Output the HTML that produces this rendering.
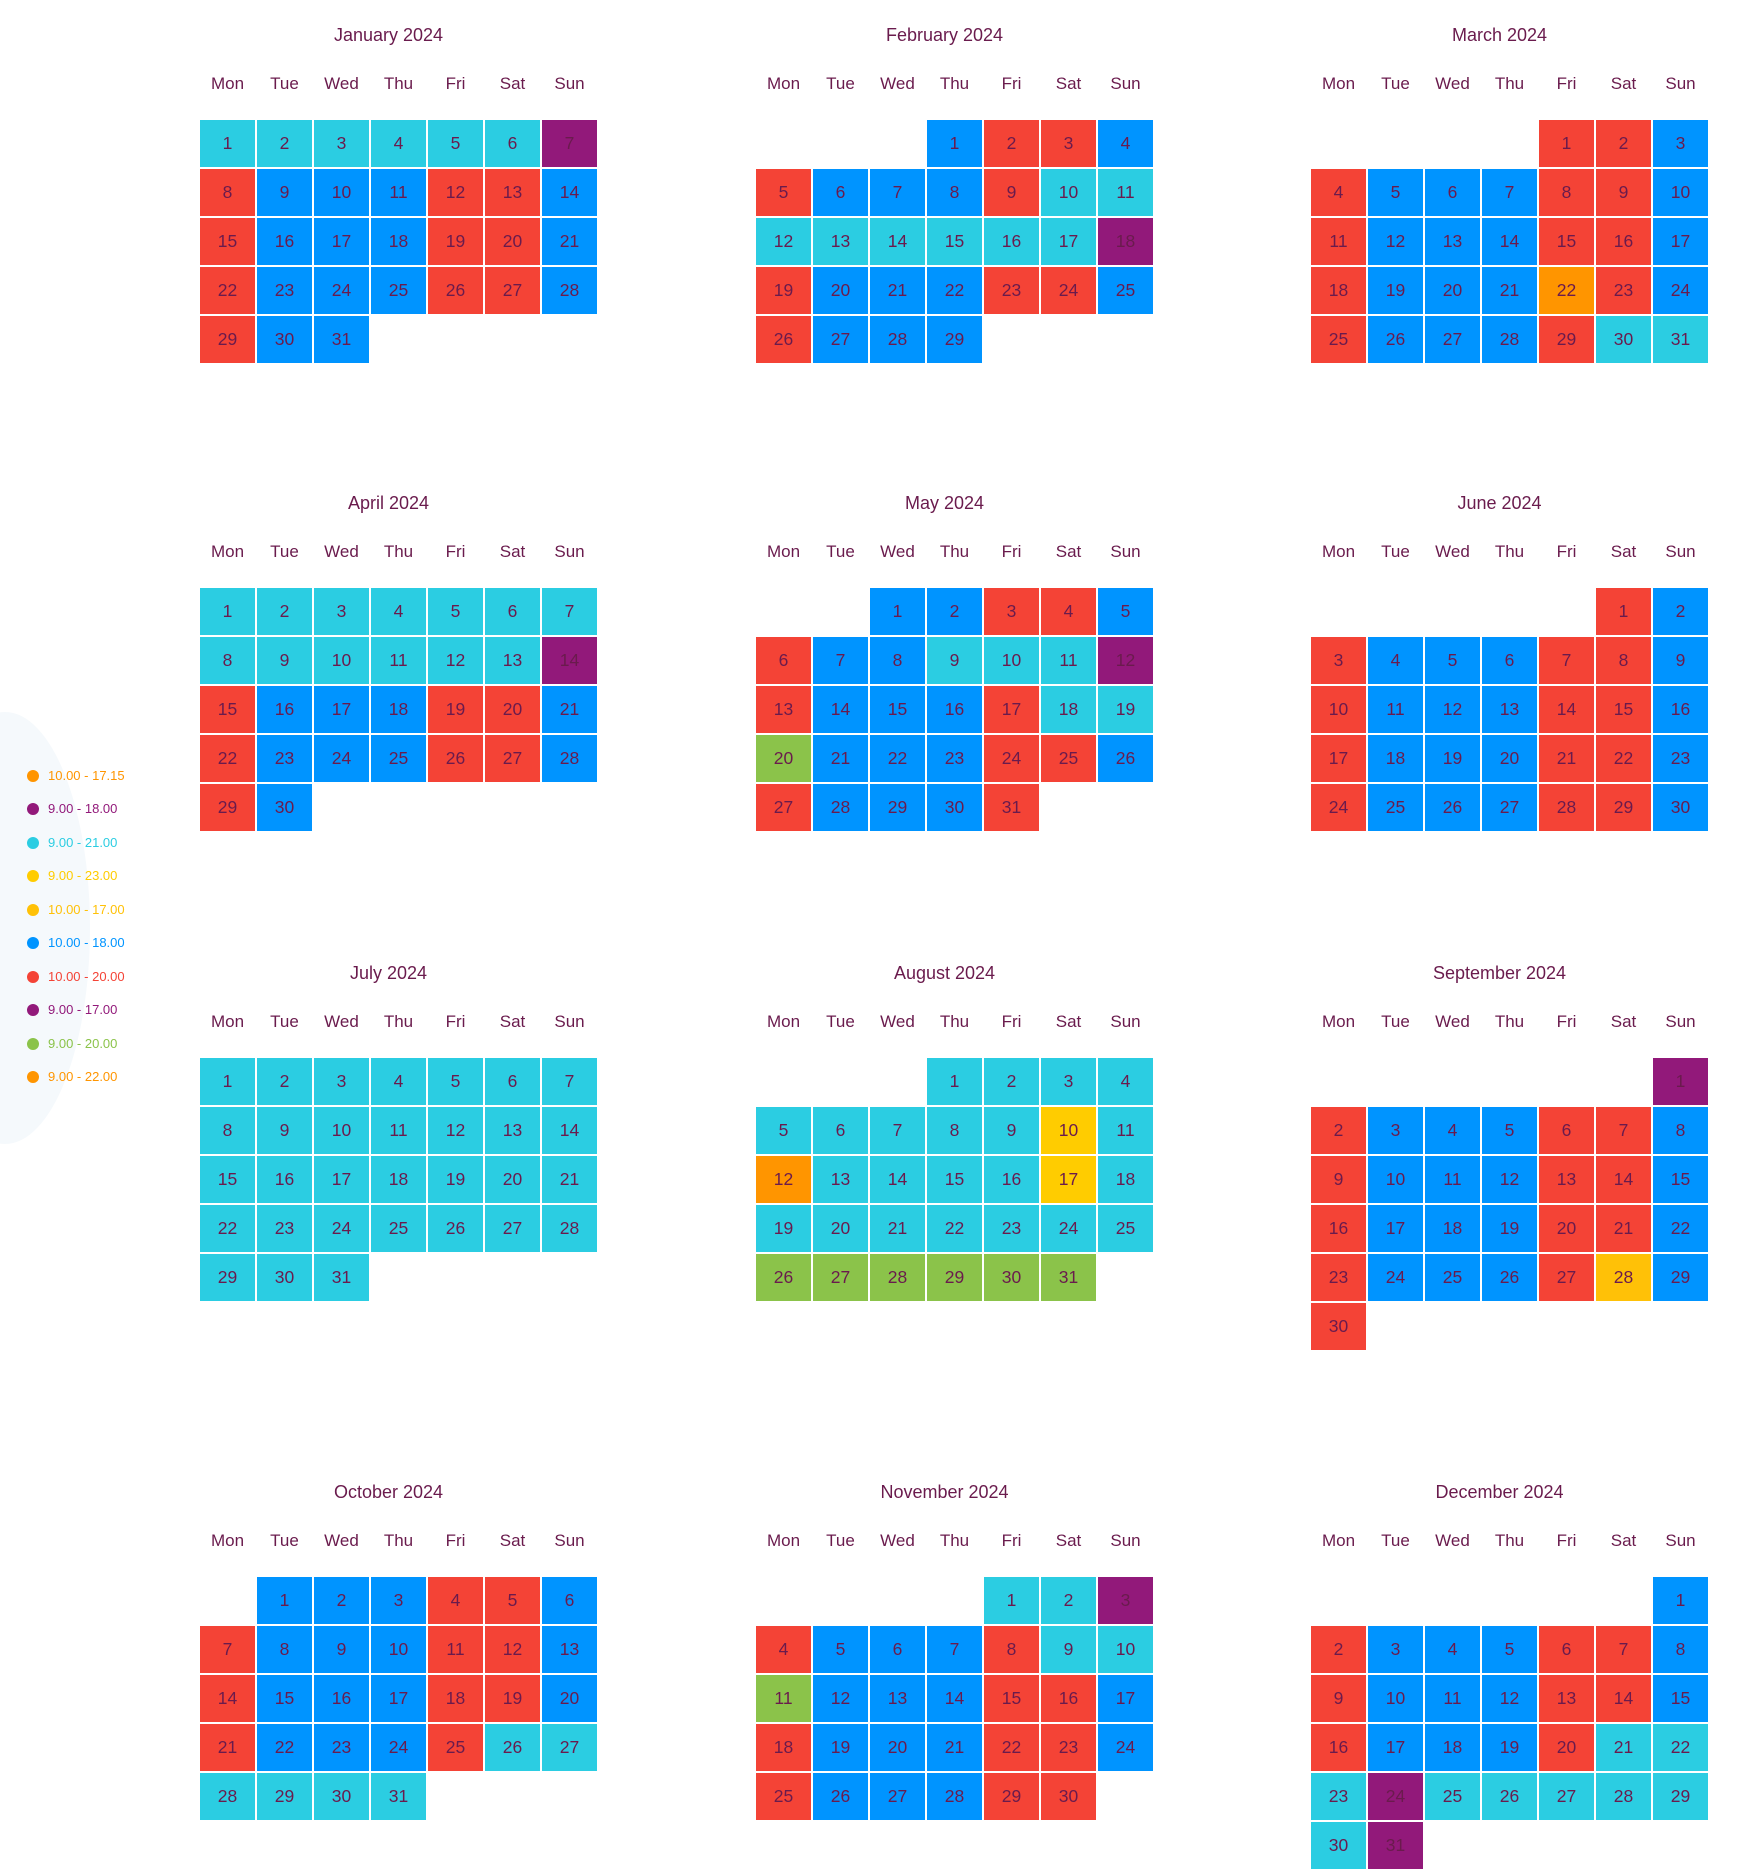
<!DOCTYPE html>
<html><head><meta charset="utf-8"><style>
body{margin:0;width:1740px;height:1871px;background:#fff;position:relative;overflow:hidden;font-family:"Liberation Sans",sans-serif;color:#6a1b4d}
.m{position:absolute;width:397px}
.t{position:absolute;top:-96px;left:-10px;width:397px;text-align:center;font-size:18px;line-height:22px}
.w{position:absolute;top:-47px;left:0;display:grid;grid-template-columns:repeat(7,55px);column-gap:2px;font-size:17px;line-height:22px;text-align:center}
.g{display:grid;grid-template-columns:repeat(7,55px);grid-auto-rows:47px;gap:2px}
.g i{font-style:normal;font-size:17.5px;display:flex;align-items:center;justify-content:center}
.c{background:#2bcde2}.b{background:#0094ff}.r{background:#f44336}.p{background:#92197a}.o{background:#ff9500}.y{background:#ffcc00}.gr{background:#8bc34a}
.blob{position:absolute;left:-80px;top:712px;width:170px;height:432px;border-radius:50%;background:#f5f9fc}
.lg{position:absolute;left:0;font-size:13px;line-height:16px}
.lg b{position:absolute;left:27px;top:2px;width:12px;height:12px;border-radius:50%}
.lg span{position:absolute;left:48px;white-space:nowrap}
</style></head><body>
<div class="blob"></div>
<div class="lg" style="top:768px;color:#ff9500"><b style="background:#ff9500"></b><span>10.00 - 17.15</span></div>
<div class="lg" style="top:801px;color:#92197a"><b style="background:#92197a"></b><span>9.00 - 18.00</span></div>
<div class="lg" style="top:835px;color:#2bcde2"><b style="background:#2bcde2"></b><span>9.00 - 21.00</span></div>
<div class="lg" style="top:868px;color:#ffcc00"><b style="background:#ffcc00"></b><span>9.00 - 23.00</span></div>
<div class="lg" style="top:902px;color:#ffc107"><b style="background:#ffc107"></b><span>10.00 - 17.00</span></div>
<div class="lg" style="top:935px;color:#0094ff"><b style="background:#0094ff"></b><span>10.00 - 18.00</span></div>
<div class="lg" style="top:969px;color:#f44336"><b style="background:#f44336"></b><span>10.00 - 20.00</span></div>
<div class="lg" style="top:1002px;color:#92197a"><b style="background:#92197a"></b><span>9.00 - 17.00</span></div>
<div class="lg" style="top:1036px;color:#8bc34a"><b style="background:#8bc34a"></b><span>9.00 - 20.00</span></div>
<div class="lg" style="top:1069px;color:#ff9500"><b style="background:#ff9500"></b><span>9.00 - 22.00</span></div>

<div class="m" style="left:200px;top:120px"><div class="t">January 2024</div><div class="w"><span>Mon</span><span>Tue</span><span>Wed</span><span>Thu</span><span>Fri</span><span>Sat</span><span>Sun</span></div><div class="g">
<i class=c>1</i><i class=c>2</i><i class=c>3</i><i class=c>4</i><i class=c>5</i><i class=c>6</i><i class=p>7</i>
<i class=r>8</i><i class=b>9</i><i class=b>10</i><i class=b>11</i><i class=r>12</i><i class=r>13</i><i class=b>14</i>
<i class=r>15</i><i class=b>16</i><i class=b>17</i><i class=b>18</i><i class=r>19</i><i class=r>20</i><i class=b>21</i>
<i class=r>22</i><i class=b>23</i><i class=b>24</i><i class=b>25</i><i class=r>26</i><i class=r>27</i><i class=b>28</i>
<i class=r>29</i><i class=b>30</i><i class=b>31</i></div></div>

<div class="m" style="left:756px;top:120px"><div class="t">February 2024</div><div class="w"><span>Mon</span><span>Tue</span><span>Wed</span><span>Thu</span><span>Fri</span><span>Sat</span><span>Sun</span></div><div class="g">
<i></i><i></i><i></i><i class=b>1</i><i class=r>2</i><i class=r>3</i><i class=b>4</i>
<i class=r>5</i><i class=b>6</i><i class=b>7</i><i class=b>8</i><i class=r>9</i><i class=c>10</i><i class=c>11</i>
<i class=c>12</i><i class=c>13</i><i class=c>14</i><i class=c>15</i><i class=c>16</i><i class=c>17</i><i class=p>18</i>
<i class=r>19</i><i class=b>20</i><i class=b>21</i><i class=b>22</i><i class=r>23</i><i class=r>24</i><i class=b>25</i>
<i class=r>26</i><i class=b>27</i><i class=b>28</i><i class=b>29</i></div></div>

<div class="m" style="left:1311px;top:120px"><div class="t">March 2024</div><div class="w"><span>Mon</span><span>Tue</span><span>Wed</span><span>Thu</span><span>Fri</span><span>Sat</span><span>Sun</span></div><div class="g">
<i></i><i></i><i></i><i></i><i class=r>1</i><i class=r>2</i><i class=b>3</i>
<i class=r>4</i><i class=b>5</i><i class=b>6</i><i class=b>7</i><i class=r>8</i><i class=r>9</i><i class=b>10</i>
<i class=r>11</i><i class=b>12</i><i class=b>13</i><i class=b>14</i><i class=r>15</i><i class=r>16</i><i class=b>17</i>
<i class=r>18</i><i class=b>19</i><i class=b>20</i><i class=b>21</i><i class=o>22</i><i class=r>23</i><i class=b>24</i>
<i class=r>25</i><i class=b>26</i><i class=b>27</i><i class=b>28</i><i class=r>29</i><i class=c>30</i><i class=c>31</i></div></div>

<div class="m" style="left:200px;top:588px"><div class="t">April 2024</div><div class="w"><span>Mon</span><span>Tue</span><span>Wed</span><span>Thu</span><span>Fri</span><span>Sat</span><span>Sun</span></div><div class="g">
<i class=c>1</i><i class=c>2</i><i class=c>3</i><i class=c>4</i><i class=c>5</i><i class=c>6</i><i class=c>7</i>
<i class=c>8</i><i class=c>9</i><i class=c>10</i><i class=c>11</i><i class=c>12</i><i class=c>13</i><i class=p>14</i>
<i class=r>15</i><i class=b>16</i><i class=b>17</i><i class=b>18</i><i class=r>19</i><i class=r>20</i><i class=b>21</i>
<i class=r>22</i><i class=b>23</i><i class=b>24</i><i class=b>25</i><i class=r>26</i><i class=r>27</i><i class=b>28</i>
<i class=r>29</i><i class=b>30</i></div></div>

<div class="m" style="left:756px;top:588px"><div class="t">May 2024</div><div class="w"><span>Mon</span><span>Tue</span><span>Wed</span><span>Thu</span><span>Fri</span><span>Sat</span><span>Sun</span></div><div class="g">
<i></i><i></i><i class=b>1</i><i class=b>2</i><i class=r>3</i><i class=r>4</i><i class=b>5</i>
<i class=r>6</i><i class=b>7</i><i class=b>8</i><i class=c>9</i><i class=c>10</i><i class=c>11</i><i class=p>12</i>
<i class=r>13</i><i class=b>14</i><i class=b>15</i><i class=b>16</i><i class=r>17</i><i class=c>18</i><i class=c>19</i>
<i class=gr>20</i><i class=b>21</i><i class=b>22</i><i class=b>23</i><i class=r>24</i><i class=r>25</i><i class=b>26</i>
<i class=r>27</i><i class=b>28</i><i class=b>29</i><i class=b>30</i><i class=r>31</i></div></div>

<div class="m" style="left:1311px;top:588px"><div class="t">June 2024</div><div class="w"><span>Mon</span><span>Tue</span><span>Wed</span><span>Thu</span><span>Fri</span><span>Sat</span><span>Sun</span></div><div class="g">
<i></i><i></i><i></i><i></i><i></i><i class=r>1</i><i class=b>2</i>
<i class=r>3</i><i class=b>4</i><i class=b>5</i><i class=b>6</i><i class=r>7</i><i class=r>8</i><i class=b>9</i>
<i class=r>10</i><i class=b>11</i><i class=b>12</i><i class=b>13</i><i class=r>14</i><i class=r>15</i><i class=b>16</i>
<i class=r>17</i><i class=b>18</i><i class=b>19</i><i class=b>20</i><i class=r>21</i><i class=r>22</i><i class=b>23</i>
<i class=r>24</i><i class=b>25</i><i class=b>26</i><i class=b>27</i><i class=r>28</i><i class=r>29</i><i class=b>30</i></div></div>

<div class="m" style="left:200px;top:1058px"><div class="t">July 2024</div><div class="w"><span>Mon</span><span>Tue</span><span>Wed</span><span>Thu</span><span>Fri</span><span>Sat</span><span>Sun</span></div><div class="g">
<i class=c>1</i><i class=c>2</i><i class=c>3</i><i class=c>4</i><i class=c>5</i><i class=c>6</i><i class=c>7</i>
<i class=c>8</i><i class=c>9</i><i class=c>10</i><i class=c>11</i><i class=c>12</i><i class=c>13</i><i class=c>14</i>
<i class=c>15</i><i class=c>16</i><i class=c>17</i><i class=c>18</i><i class=c>19</i><i class=c>20</i><i class=c>21</i>
<i class=c>22</i><i class=c>23</i><i class=c>24</i><i class=c>25</i><i class=c>26</i><i class=c>27</i><i class=c>28</i>
<i class=c>29</i><i class=c>30</i><i class=c>31</i></div></div>

<div class="m" style="left:756px;top:1058px"><div class="t">August 2024</div><div class="w"><span>Mon</span><span>Tue</span><span>Wed</span><span>Thu</span><span>Fri</span><span>Sat</span><span>Sun</span></div><div class="g">
<i></i><i></i><i></i><i class=c>1</i><i class=c>2</i><i class=c>3</i><i class=c>4</i>
<i class=c>5</i><i class=c>6</i><i class=c>7</i><i class=c>8</i><i class=c>9</i><i class=y>10</i><i class=c>11</i>
<i class=o>12</i><i class=c>13</i><i class=c>14</i><i class=c>15</i><i class=c>16</i><i class=y>17</i><i class=c>18</i>
<i class=c>19</i><i class=c>20</i><i class=c>21</i><i class=c>22</i><i class=c>23</i><i class=c>24</i><i class=c>25</i>
<i class=gr>26</i><i class=gr>27</i><i class=gr>28</i><i class=gr>29</i><i class=gr>30</i><i class=gr>31</i></div></div>

<div class="m" style="left:1311px;top:1058px"><div class="t">September 2024</div><div class="w"><span>Mon</span><span>Tue</span><span>Wed</span><span>Thu</span><span>Fri</span><span>Sat</span><span>Sun</span></div><div class="g">
<i></i><i></i><i></i><i></i><i></i><i></i><i class=p>1</i>
<i class=r>2</i><i class=b>3</i><i class=b>4</i><i class=b>5</i><i class=r>6</i><i class=r>7</i><i class=b>8</i>
<i class=r>9</i><i class=b>10</i><i class=b>11</i><i class=b>12</i><i class=r>13</i><i class=r>14</i><i class=b>15</i>
<i class=r>16</i><i class=b>17</i><i class=b>18</i><i class=b>19</i><i class=r>20</i><i class=r>21</i><i class=b>22</i>
<i class=r>23</i><i class=b>24</i><i class=b>25</i><i class=b>26</i><i class=r>27</i><i class=y style="background:#ffc107">28</i><i class=b>29</i>
<i class=r>30</i></div></div>

<div class="m" style="left:200px;top:1577px"><div class="t">October 2024</div><div class="w"><span>Mon</span><span>Tue</span><span>Wed</span><span>Thu</span><span>Fri</span><span>Sat</span><span>Sun</span></div><div class="g">
<i></i><i class=b>1</i><i class=b>2</i><i class=b>3</i><i class=r>4</i><i class=r>5</i><i class=b>6</i>
<i class=r>7</i><i class=b>8</i><i class=b>9</i><i class=b>10</i><i class=r>11</i><i class=r>12</i><i class=b>13</i>
<i class=r>14</i><i class=b>15</i><i class=b>16</i><i class=b>17</i><i class=r>18</i><i class=r>19</i><i class=b>20</i>
<i class=r>21</i><i class=b>22</i><i class=b>23</i><i class=b>24</i><i class=r>25</i><i class=c>26</i><i class=c>27</i>
<i class=c>28</i><i class=c>29</i><i class=c>30</i><i class=c>31</i></div></div>

<div class="m" style="left:756px;top:1577px"><div class="t">November 2024</div><div class="w"><span>Mon</span><span>Tue</span><span>Wed</span><span>Thu</span><span>Fri</span><span>Sat</span><span>Sun</span></div><div class="g">
<i></i><i></i><i></i><i></i><i class=c>1</i><i class=c>2</i><i class=p>3</i>
<i class=r>4</i><i class=b>5</i><i class=b>6</i><i class=b>7</i><i class=r>8</i><i class=c>9</i><i class=c>10</i>
<i class=gr>11</i><i class=b>12</i><i class=b>13</i><i class=b>14</i><i class=r>15</i><i class=r>16</i><i class=b>17</i>
<i class=r>18</i><i class=b>19</i><i class=b>20</i><i class=b>21</i><i class=r>22</i><i class=r>23</i><i class=b>24</i>
<i class=r>25</i><i class=b>26</i><i class=b>27</i><i class=b>28</i><i class=r>29</i><i class=r>30</i></div></div>

<div class="m" style="left:1311px;top:1577px"><div class="t">December 2024</div><div class="w"><span>Mon</span><span>Tue</span><span>Wed</span><span>Thu</span><span>Fri</span><span>Sat</span><span>Sun</span></div><div class="g">
<i></i><i></i><i></i><i></i><i></i><i></i><i class=b>1</i>
<i class=r>2</i><i class=b>3</i><i class=b>4</i><i class=b>5</i><i class=r>6</i><i class=r>7</i><i class=b>8</i>
<i class=r>9</i><i class=b>10</i><i class=b>11</i><i class=b>12</i><i class=r>13</i><i class=r>14</i><i class=b>15</i>
<i class=r>16</i><i class=b>17</i><i class=b>18</i><i class=b>19</i><i class=r>20</i><i class=c>21</i><i class=c>22</i>
<i class=c>23</i><i class=p>24</i><i class=c>25</i><i class=c>26</i><i class=c>27</i><i class=c>28</i><i class=c>29</i>
<i class=c>30</i><i class=p>31</i></div></div>
</body></html>
